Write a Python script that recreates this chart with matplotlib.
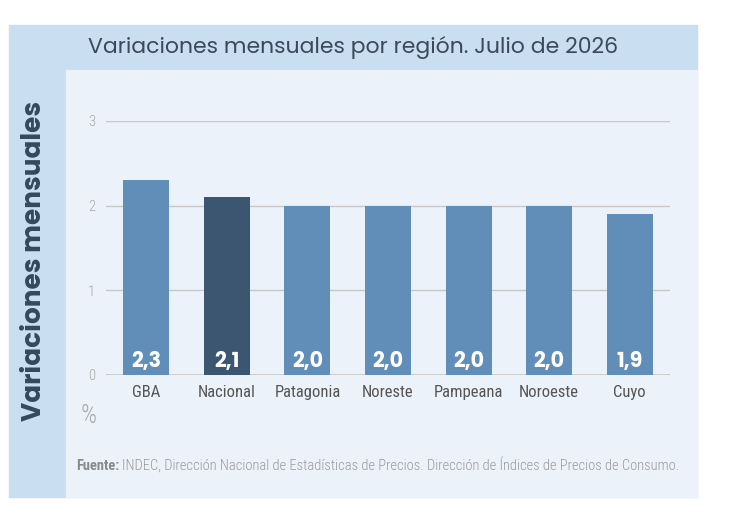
import matplotlib
matplotlib.use("Agg")
import matplotlib.pyplot as plt
from matplotlib.patches import Rectangle
from matplotlib import font_manager
from matplotlib.font_manager import FontProperties

# Données
regiones = ["GBA", "Nacional", "Patagonia", "Noreste", "Pampeana", "Noroeste", "Cuyo"]
variaciones = [2.3, 2.1, 2.0, 2.0, 2.0, 2.0, 1.9]
etiquetas = ["2,3", "2,1", "2,0", "2,0", "2,0", "2,0", "1,9"]
yticks = [0, 1, 2, 3]

W, H = 730, 525

def fx(px):
    return px / W

def fy(py):
    return 1 - py / H

def weight_num(w):
    if isinstance(w, int):
        return w
    return {"normal": 400, "regular": 400, "bold": 700, "light": 300}.get(str(w), 400)

# police statique (les fichiers variables sortent en Thin)
def static_font(families, weight, fallback="DejaVu Sans"):
    for fam in families:
        entries = [f for f in font_manager.fontManager.ttflist
                   if f.name == fam and f.style == "normal"]
        files = {f.fname for f in entries}
        if len(files) < 2:
            continue
        for f in entries:
            if weight_num(f.weight) == weight:
                return FontProperties(fname=f.fname)
    return FontProperties(family=fallback, weight=weight)

geo_reg = static_font(["Montserrat", "Poppins", "Open Sans"], 400)
geo_bold = static_font(["Montserrat", "Poppins", "Open Sans"], 700)
narrow_reg = static_font(["Roboto Condensed", "Archivo Narrow", "PT Sans Narrow"], 400,
                         "Liberation Sans")
narrow_light = static_font(["Roboto Condensed", "Archivo Narrow"], 300, "Liberation Sans")
narrow_bold = static_font(["Roboto Condensed", "Archivo Narrow", "PT Sans Narrow"], 700,
                          "Liberation Sans")

fig = plt.figure(figsize=(7.3, 5.25), dpi=100)
fig.patch.set_facecolor("white")
renderer = fig.canvas.get_renderer()

def fit(txt, target, vertical=False):
    # ajuste la taille pour retrouver la largeur du modèle
    bb = txt.get_window_extent(renderer)
    cur = bb.height if vertical else bb.width
    txt.set_fontsize(txt.get_fontsize() * target / cur)

# Cadre (derrière les axes)
fig.patches.append(Rectangle((fx(9), fy(497)), fx(697 - 9), (497 - 25) / H,
                             transform=fig.transFigure, color="#c9def0", zorder=-2))
fig.patches.append(Rectangle((fx(66), fy(497)), fx(697 - 66), (497 - 70) / H,
                             transform=fig.transFigure, color="#ebf2fa", zorder=-1))

ax = fig.add_axes([fx(106), fy(375), fx(670 - 106), (375 - 121) / H])
ax.set_facecolor("none")

colors = ["#3c5571" if r == "Nacional" else "#608eb9" for r in regiones]
x = range(len(regiones))
ax.bar(x, variaciones, width=0.57, color=colors, zorder=3)

vals = []
for i, (v, lab) in enumerate(zip(variaciones, etiquetas)):
    t = ax.text(i, 0.095, lab, ha="center", va="baseline", color="white",
                fontproperties=geo_bold, zorder=4)
    t.set_fontsize(13)
    vals.append(t)
fit(vals[0], 30)
for t in vals[1:]:
    t.set_fontsize(vals[0].get_fontsize())

ax.set_xlim(-0.5, len(regiones) - 0.5)
ax.set_ylim(0, 3)
ax.set_yticks(yticks)
ax.set_yticklabels([str(t) for t in yticks], color="#a8a8a8")
for lab in ax.get_yticklabels():
    lab.set_fontproperties(narrow_light)
    lab.set_fontsize(10.5)
ax.set_xticks(list(x))
ax.set_xticklabels(regiones, color="#555555")
for lab in ax.get_xticklabels():
    lab.set_fontproperties(narrow_reg)
    lab.set_fontsize(12)
ax.tick_params(length=0, axis="y", pad=8)
ax.tick_params(length=0, axis="x", pad=7)
ax.grid(axis="y", color="#c8c8c8", linewidth=1, zorder=1)
for s in ax.spines.values():
    s.set_visible(False)
ax.axhline(0, color="#c8c8c8", linewidth=1.2, zorder=2)

title = fig.text(fx(353), fy(47), "Variaciones mensuales por región. Julio de 2026",
                 ha="center", va="center", color="#3b4a5a", fontproperties=geo_reg)
title.set_fontsize(14.5)
fit(title, 529)

ylab = fig.text(fx(35), fy(261), "Variaciones mensuales", rotation=90, ha="center",
                va="center", color="#34485e", fontproperties=geo_bold)
ylab.set_fontsize(17)
fit(ylab, 320, vertical=True)

pct = fig.text(fx(89), fy(416), "%", ha="center", va="center",
               color="#a8a8a8", fontproperties=narrow_light)
pct.set_fontsize(18)

src_size = 8.5
f1 = fig.text(fx(76), fy(470), "Fuente:", ha="left", va="baseline",
              color="#8a8a8a", fontproperties=narrow_bold)
f1.set_fontsize(src_size)
bb = f1.get_window_extent(renderer)
f2 = fig.text(bb.x1 / fig.bbox.width + fx(3), fy(470),
              "INDEC, Dirección Nacional de Estadísticas de Precios. Dirección de Índices de Precios de Consumo.",
              ha="left", va="baseline", color="#9a9a9a", fontproperties=narrow_light)
f2.set_fontsize(src_size)
# largeur totale visée : 76 -> 678 px
total = f2.get_window_extent(renderer).x1 - bb.x0
src_size = src_size * 602 / total
f1.set_fontsize(src_size)
bb = f1.get_window_extent(renderer)
f2.set_fontsize(src_size)
f2.set_x(bb.x1 / fig.bbox.width + fx(3))

fig.savefig("out.png", dpi=100)
